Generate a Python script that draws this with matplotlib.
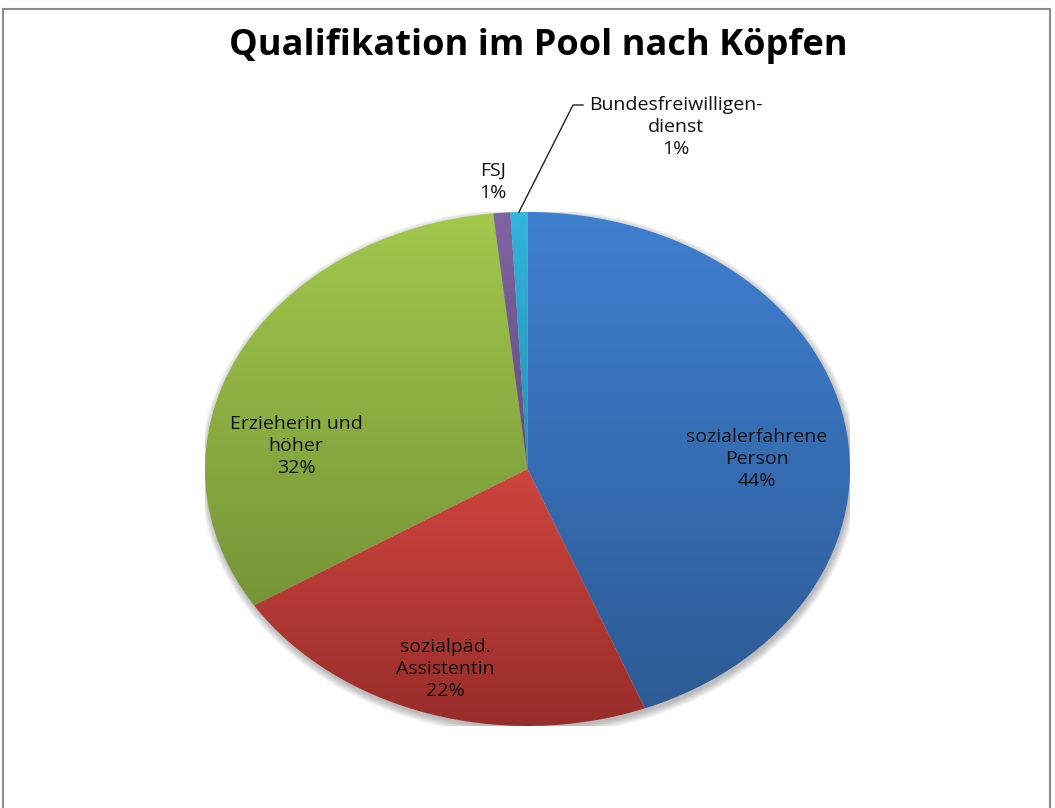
import matplotlib.pyplot as plt
import numpy as np
from matplotlib.patches import Ellipse, Rectangle
from matplotlib.colors import LinearSegmentedColormap

# data (counts per qualification)
labels = ["sozialerfahrene\nPerson", "sozialpäd.\nAssistentin", "Erzieherin und\nhöher",
          "FSJ", "Bundesfreiwilligen-\ndienst"]
values = [52, 26, 38, 1, 1]
top_colors = ["#3f7fd0", "#cf443f", "#a2c84c", "#8064a2", "#33b5dc"]
bottom_colors = ["#2d5b95", "#962d29", "#769538", "#634c80", "#2590b4"]

# label centres in pixel coords of the original picture
label_pos = [(757, 459), (445, 669), (296, 446), (493, 182), (676, 127)]

W, H = 1055, 808
fig = plt.figure(figsize=(W / 100, H / 100), dpi=100)

# chart frame
fig.patches.append(Rectangle((3 / W, -0.01), (1050 - 3) / W, (H - 9) / H + 0.01,
                             transform=fig.transFigure, fill=False,
                             edgecolor="#8c8c8c", linewidth=1.5))

fig.text(538 / W, 1 - 46 / H, "Qualifikation im Pool nach Köpfen", ha="center", va="center",
         fontsize=26, fontweight="bold", family="Open Sans")

ax = fig.add_axes([205 / W, (H - 726) / H, 645 / W, 514 / H])
wedges, _ = ax.pie(values, startangle=90, counterclock=False, radius=1,
                   wedgeprops=dict(linewidth=0))
ax.set_aspect("auto")
ax.axis("off")

# soft shadow under the pie
for k in range(8):
    ax.add_patch(Ellipse((0.004, -0.012), 2 + 0.006 * k, 2 + 0.008 * k,
                         facecolor="#000000", alpha=0.035, linewidth=0, zorder=0))

# gradient fill per slice
for w, c0, c1 in zip(wedges, top_colors, bottom_colors):
    verts = w.get_patch_transform().transform(w.get_path().vertices)
    y0, y1 = verts[:, 1].min(), verts[:, 1].max()
    cmap = LinearSegmentedColormap.from_list("g", [c1, c0])
    grad = np.linspace(0, 1, 256).reshape(-1, 1)
    w.set_facecolor("none")
    im = ax.imshow(grad, cmap=cmap, extent=[-1, 1, y0, y1], origin="lower",
                   aspect="auto", zorder=1, interpolation="bilinear")
    im.set_clip_path(w)
ax.set_xlim(-1, 1)
ax.set_ylim(-1, 1)

total = sum(values)
for lab, v, (px, py) in zip(labels, values, label_pos):
    fig.text(px / W, 1 - py / H, f"{lab}\n{round(100 * v / total)}%", ha="center", va="center",
             fontsize=14, family="Open Sans", color="#111111", linespacing=1.3)

# leader line for the small slice
fig.lines.append(plt.Line2D([519 / W, 573 / W, 583 / W], [1 - 212 / H, 1 - 105 / H, 1 - 105 / H],
                            transform=fig.transFigure, color="#222222", linewidth=1))

fig.savefig("out.png", dpi=100)
